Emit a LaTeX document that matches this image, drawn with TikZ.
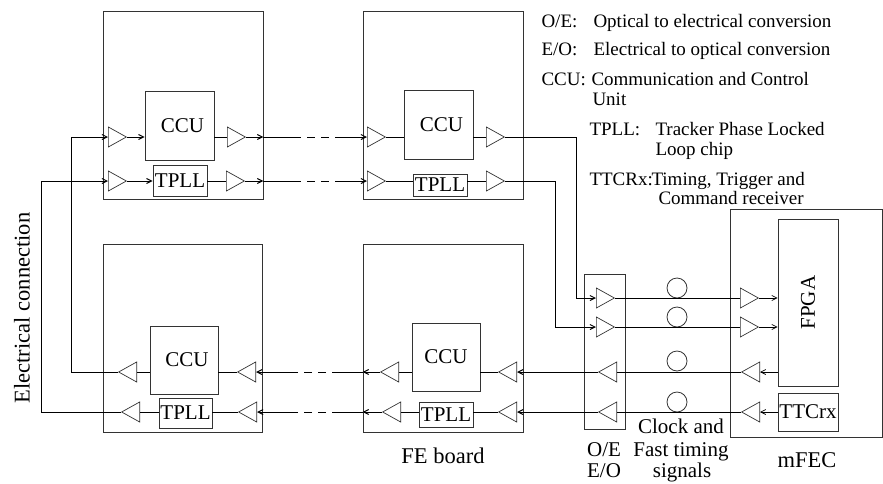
\documentclass[tikz,border=0pt]{standalone}
\usepackage{fontspec}
\setmainfont{Liberation Serif}
\usetikzlibrary{arrows.meta,shapes.geometric}
\begin{document}
\begin{tikzpicture}[x=1pt,y=-1pt,line width=1pt,
  box/.style={draw=black!80,line width=0.8pt,inner sep=0pt,font=\fontsize{21}{23}\selectfont},
  tri/.style={draw=black!80,line width=0.7pt,isosceles triangle,isosceles triangle stretches,
     minimum width=20pt,minimum height=18pt,inner sep=0pt,anchor=lower side},
  trir/.style={tri,shape border rotate=0},
  tril/.style={tri,shape border rotate=180},
  arr/.style={-{Straight Barb[length=5pt,width=5pt]}},
  dsh/.style={dash pattern=on 8pt off 6pt},
  fib/.style={draw=black!80,line width=0.8pt,circle,minimum size=20pt,inner sep=0pt},
  leg/.style={anchor=base west,inner sep=0pt,font=\fontsize{19}{21}\selectfont},
  big/.style={inner sep=0pt,font=\fontsize{22.5}{25}\selectfont},
  mid/.style={inner sep=0pt,font=\fontsize{21}{23}\selectfont}]
\useasboundingbox (0,0) rectangle (883,483);

% ---------- boards ----------
\node[box,minimum width=160pt,minimum height=188pt] (tlb) at (183,105) {};
\node[box,minimum width=69pt,minimum height=69pt] (tlc) at (179.5,125.5) {\hspace{6pt}CCU};
\node[box,minimum width=54pt,minimum height=31pt] (tlt) at (180,180.5) {TPLL};
\node[box,minimum width=160pt,minimum height=188pt] (trb) at (443,105) {};
\node[box,minimum width=69pt,minimum height=69pt] (trc) at (438.5,124.5) {\hspace{6pt}CCU};
\node[box,minimum width=54pt,minimum height=22pt] (trt) at (440,185) {TPLL};
\node[box,minimum width=160pt,minimum height=188pt] (brb) at (443,338) {};
\node[box,minimum width=68pt,minimum height=68pt] (brc) at (446,357) {CCU};
\node[box,minimum width=54pt,minimum height=25pt] (brt) at (446,414.5) {TPLL};
\node[box,minimum width=159pt,minimum height=188pt] (blb) at (182.5,338) {};
\node[box,minimum width=68pt,minimum height=68pt] (blc) at (184,360) {\hspace{6pt}CCU};
\node[box,minimum width=53pt,minimum height=30pt] (blt) at (185.5,413) {TPLL};

% ---------- O/E and mFEC ----------
\node[box,minimum width=41pt,minimum height=155pt] (oe) at (604.5,351.5) {};
\node[box,minimum width=152pt,minimum height=228pt] (mfec) at (806,323) {};
\node[box,minimum width=60pt,minimum height=167pt] (fpga) at (808,302.5) {\rotatebox{90}{FPGA}};
\node[box,minimum width=60pt,minimum height=38pt] (ttc) at (808,412) {TTCrx};

% ---------- triangles ----------
\node[trir] (tlci) at (108,137) {};
\node[trir] (tlti) at (108,181) {};
\node[trir] (tlco) at (227,137) {};
\node[trir] (tlto) at (226,181) {};
\node[trir] (trci) at (367,137) {};
\node[trir] (trti) at (367,181) {};
\node[trir] (trco) at (486,137) {};
\node[trir] (trto) at (486,181) {};
\node[tril] (brci) at (517,372) {};
\node[tril] (brti) at (517,412) {};
\node[tril] (brco) at (399,372) {};
\node[tril] (brto) at (401,412) {};
\node[tril] (blci) at (256,372) {};
\node[tril] (blti) at (257,412) {};
\node[tril] (blco) at (137,372) {};
\node[tril] (blto) at (140,412) {};
\node[trir] (oe1) at (596,298) {};
\node[trir] (oe2) at (596,327) {};
\node[tril] (oe3) at (617,372) {};
\node[tril] (oe4) at (617,412) {};
\node[trir] (m1) at (740,298) {};
\node[trir] (m2) at (740,327) {};
\node[tril] (m3) at (760,372) {};
\node[tril] (m4) at (760,412) {};

% ---------- fibres ----------
\node[fib] (c1) at (677,288) {};
\node[fib] (c2) at (677,317) {};
\node[fib] (c3) at (677,361) {};
\node[fib] (c4) at (677,402) {};

% ---------- helper coordinates ----------
\coordinate (v1) at (71,0);
\coordinate (v2) at (41,0);
\coordinate (v3) at (576,0);
\coordinate (v4) at (555,0);
\coordinate (da) at (293,0);
\coordinate (db) at (340,0);

% ---------- top-left board wiring ----------
\draw[arr] (tlci.apex) -- (tlci.apex -| tlc.west);
\draw[arr] (tlti.apex) -- (tlti.apex -| tlt.west);
\draw (tlco.lower side -| tlc.east) -- (tlco.lower side);
\draw (tlto.lower side -| tlt.east) -- (tlto.lower side);
\draw[arr] (tlco.apex) -- (tlco.apex -| tlb.east);
\draw[arr] (tlto.apex) -- (tlto.apex -| tlb.east);
% top links to top-right board
\draw (tlco.apex -| tlb.east) -- (tlco.apex -| da);
\draw[dsh] (tlco.apex -| da) -- (tlco.apex -| db);
\draw[arr] (tlco.apex -| db) -- (trci.lower side);
\draw (tlto.apex -| tlb.east) -- (tlto.apex -| da);
\draw[dsh] (tlto.apex -| da) -- (tlto.apex -| db);
\draw[arr] (tlto.apex -| db) -- (trti.lower side);

% ---------- top-right board wiring ----------
\draw (trci.apex) -- (trci.apex -| trc.west);
\draw (trti.apex) -- (trti.apex -| trt.west);
\draw (trco.lower side -| trc.east) -- (trco.lower side);
\draw (trto.lower side -| trt.east) -- (trto.lower side);
\draw[arr] (trco.apex) -- (trco.apex -| v3) -- (oe1.lower side -| v3) -- (oe1.lower side);
\draw[arr] (trto.apex) -- (trto.apex -| v4) -- (oe2.lower side -| v4) -- (oe2.lower side);

% ---------- optical links ----------
\draw (oe1.apex) -- (m1.lower side);
\draw (oe2.apex) -- (m2.lower side);
\draw (m3.apex) -- (oe3.lower side);
\draw (m4.apex) -- (oe4.lower side);
\draw[arr,line width=0.7pt] (m1.apex) -- (m1.apex -| fpga.west);
\draw[arr,line width=0.7pt] (m2.apex) -- (m2.apex -| fpga.west);
\draw[arr,line width=0.7pt] (m3.lower side -| fpga.west) -- (m3.lower side);
\draw[arr,line width=0.7pt] (m4.lower side -| ttc.west) -- (m4.lower side);
\draw[arr] (oe3.apex) -- (brci.lower side);
\draw[arr] (oe4.apex) -- (brti.lower side);

% ---------- bottom-right board wiring ----------
\draw (brci.apex) -- (brci.apex -| brc.east);
\draw (brti.apex) -- (brti.apex -| brt.east);
\draw (brco.lower side -| brc.west) -- (brco.lower side);
\draw (brto.lower side -| brt.west) -- (brto.lower side);
\draw[arr] (brco.apex) -- (brco.apex -| brb.west);
\draw[arr] (brto.apex) -- (brto.apex -| brb.west);
% bottom links to bottom-left board
\draw (brco.apex -| brb.west) -- (brco.apex -| db);
\draw[dsh] (brco.apex -| db) -- (brco.apex -| da);
\draw[arr] (brco.apex -| da) -- (blci.lower side);
\draw (brto.apex -| brb.west) -- (brto.apex -| db);
\draw[dsh] (brto.apex -| db) -- (brto.apex -| da);
\draw[arr] (brto.apex -| da) -- (blti.lower side);

% ---------- bottom-left board wiring ----------
\draw (blci.apex) -- (blci.apex -| blc.east);
\draw (blti.apex) -- (blti.apex -| blt.east);
\draw (blco.lower side -| blc.west) -- (blco.lower side);
\draw (blto.lower side -| blt.west) -- (blto.lower side);
% electrical return loop
\draw[arr] (blco.apex) -- (blco.apex -| v1) -- (tlci.lower side -| v1) -- (tlci.lower side);
\draw[arr] (blto.apex) -- (blto.apex -| v2) -- (tlti.lower side -| v2) -- (tlti.lower side);

% ---------- labels ----------
\node[big,rotate=90] (elec) at (22,308) {Electrical connection};
\node[big,anchor=base] (feb) at (443,463) {FE board};
\node[mid,anchor=base] (oel) at (604,456) {O/E};
\node[mid,anchor=base] (eol) at (604,477) {E/O};
\node[mid,anchor=base] (clk1) at (681,433) {Clock and};
\node[mid,anchor=base] (clk2) at (681,456) {Fast timing};
\node[mid,anchor=base] (clk3) at (682,477) {signals};
\node[big,anchor=base] (mfl) at (807,467) {mFEC};

% ---------- legend ----------
\node[leg] (k1) at (541,27) {O/E:};
\node[leg] (t1) at (593,27) {Optical to electrical conversion};
\node[leg] (k2) at (541,55) {E/O:};
\node[leg] (t2) at (593,55) {Electrical to optical conversion};
\node[leg] (k3) at (541,85) {CCU:};
\node[leg] (t3) at (591,85) {Communication and Control};
\node[leg] (t3b) at (592,105) {Unit};
\node[leg] (k4) at (589,135) {TPLL:};
\node[leg] (t4) at (655,135) {Tracker Phase Locked};
\node[leg] (t4b) at (655,155) {Loop chip};
\node[leg] (k5) at (589,185) {TTCRx:};
\node[leg] (t5) at (651,185) {Timing, Trigger and};
\node[leg] (t5b) at (658,204) {Command receiver};
\end{tikzpicture}
\end{document}
